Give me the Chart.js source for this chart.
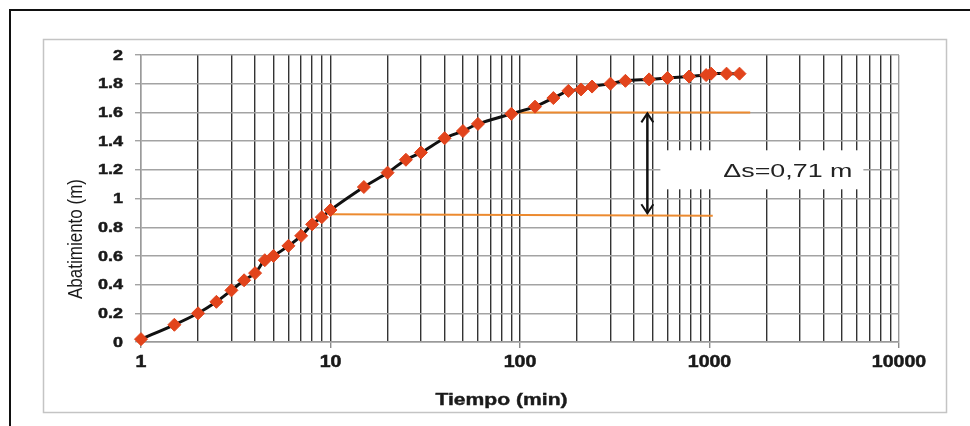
<!DOCTYPE html>
<html>
<head>
<meta charset="utf-8">
<script src="https://cdn.jsdelivr.net/npm/chart.js@4.4.1/dist/chart.umd.min.js"></script>
<style>
  html, body { margin: 0; padding: 0; background: #fff; }
  canvas { display: block; }
</style>
</head>
<body>
<canvas id="abatimientoChart" width="970" height="426"></canvas>
<script>
// datos
const tiempo = [1, 1.5, 2, 2.5, 3, 3.5, 4, 4.5, 5, 6, 7, 8, 9, 10, 15, 20, 25, 30, 40, 50, 60,
  90, 120, 150, 180, 210, 240, 300, 360, 480, 600, 780, 960, 1020, 1230, 1440];
const abatimiento = [0.02, 0.12, 0.20, 0.28, 0.36, 0.43, 0.48, 0.57, 0.60, 0.67, 0.74, 0.82, 0.87, 0.92,
  1.08, 1.18, 1.27, 1.32, 1.42, 1.47, 1.52, 1.59, 1.64, 1.70, 1.75, 1.76, 1.78, 1.80, 1.82, 1.83,
  1.84, 1.85, 1.86, 1.87, 1.87, 1.87];

const rectaSupX = [90, 1640];
const rectaSupY = [1.6, 1.6];
const rectaInfX = [10, 1040];
const rectaInfY = [0.89, 0.88];

const xTickLabels = ['1', '10', '100', '1000', '10000'];
const yTickLabels = ['0', '0.2', '0.4', '0.6', '0.8', '1', '1.2', '1.4', '1.6', '1.8', '2'];

const flechaX = 470;
const flechaY = [1.6, 0.89];
const etiquetaDelta = 'Δs=0,71 m';
const etiquetaY = 1.2;

// lineas de grilla: 1..9 por cada decada
const xTickValues = [];
xTickLabels.slice(0, -1).forEach((d) => {
  for (let m = 1; m <= 9; m++) xTickValues.push(Number(d) * m);
});
xTickValues.push(Number(xTickLabels[xTickLabels.length - 1]));
const yTickValues = yTickLabels.map(Number);

const toPoints = (xs, ys) => xs.map((x, i) => ({ x: x, y: ys[i] }));

function stretchText(ctx, text, x, y, align, sx, font, heavy) {
  ctx.save();
  ctx.font = font;
  ctx.textAlign = align;
  ctx.translate(x, y);
  ctx.scale(sx, 1);
  ctx.fillText(text, 0, 0);
  if (heavy) {
    ctx.lineWidth = heavy;
    ctx.strokeStyle = ctx.fillStyle;
    ctx.strokeText(text, 0, 0);
  }
  ctx.restore();
}

const decor = {
  id: 'decor',
  beforeDraw(chart) {
    const ctx = chart.ctx;
    ctx.save();
    ctx.fillStyle = '#fff';
    ctx.fillRect(0, 0, chart.width, chart.height);
    ctx.strokeStyle = '#111';
    ctx.lineWidth = 2;
    ctx.beginPath();
    ctx.moveTo(10, chart.height);
    ctx.lineTo(10, 10);
    ctx.lineTo(chart.width, 10);
    ctx.stroke();
    ctx.strokeStyle = '#c4c4c4';
    ctx.lineWidth = 1.5;
    ctx.strokeRect(43.5, 39.5, 903, 373);
    ctx.restore();
  },
  afterDatasetsDraw(chart) {
    const ctx = chart.ctx;
    const xs = chart.scales.x, ys = chart.scales.y;
    const ax = xs.getPixelForValue(flechaX);
    const y1 = ys.getPixelForValue(flechaY[0]);
    const y2 = ys.getPixelForValue(flechaY[1]);
    ctx.save();
    ctx.strokeStyle = '#111';
    ctx.lineWidth = 2.5;
    ctx.beginPath();
    ctx.moveTo(ax, y1 + 1);
    ctx.lineTo(ax, y2 - 1);
    ctx.stroke();
    ctx.lineWidth = 2;
    ctx.beginPath();
    ctx.moveTo(ax - 6, y1 + 10); ctx.lineTo(ax, y1 + 1); ctx.lineTo(ax + 6, y1 + 10);
    ctx.moveTo(ax - 6, y2 - 10); ctx.lineTo(ax, y2 - 1); ctx.lineTo(ax + 6, y2 - 10);
    ctx.stroke();

    // caja de la etiqueta
    const cy = ys.getPixelForValue(etiquetaY);
    const bx = ax + 13, bw = 203, bh = 39;
    ctx.fillStyle = '#fff';
    ctx.fillRect(bx, cy - bh / 2, bw, bh);
    ctx.fillStyle = '#222';
    ctx.textBaseline = 'alphabetic';
    stretchText(ctx, etiquetaDelta, bx + bw - 11, cy + 7.5, 'right', 1.45, '18.5px "Liberation Sans", Arial, sans-serif');
    ctx.restore();
  },
  afterDraw(chart) {
    const ctx = chart.ctx;
    const xs = chart.scales.x, ys = chart.scales.y;
    ctx.save();
    ctx.fillStyle = '#1a1a1a';
    ctx.textBaseline = 'middle';
    yTickLabels.forEach((t) => {
      stretchText(ctx, t, 123, ys.getPixelForValue(Number(t)) + 0.5, 'right', 1.2, 'bold 15px "Liberation Sans", Arial, sans-serif', 0.5);
    });
    xTickLabels.forEach((t) => {
      stretchText(ctx, t, xs.getPixelForValue(Number(t)), 363, 'center', 1.22, 'bold 16px "Liberation Sans", Arial, sans-serif', 0.5);
    });
    ctx.textBaseline = 'alphabetic';
    stretchText(ctx, 'Tiempo (min)', 501.5, 405, 'center', 1.28, 'bold 16.5px "Liberation Sans", Arial, sans-serif', 0.4);

    ctx.translate(82, 239);
    ctx.rotate(-Math.PI / 2);
    ctx.scale(1, 1.2);
    ctx.font = '17px "Liberation Sans", Arial, sans-serif';
    ctx.textAlign = 'center';
    ctx.fillText('Abatimiento (m)', 0, 0);
    ctx.restore();
  }
};

const isMajor = (v) => Math.abs(Math.log10(v) - Math.round(Math.log10(v))) < 1e-9;

new Chart(document.getElementById('abatimientoChart'), {
  type: 'line',
  data: {
    datasets: [
      {
        label: 'Abatimiento',
        data: toPoints(tiempo, abatimiento),
        borderColor: '#111',
        borderWidth: 3,
        tension: 0.3,
        pointStyle: 'rectRot',
        pointRadius: 6.5,
        pointBackgroundColor: '#e2441c',
        pointBorderColor: '#e2441c',
        pointBorderWidth: 1,
        clip: false,
        order: 0
      },
      {
        label: 'recta superior',
        data: toPoints(rectaSupX, rectaSupY),
        borderColor: '#ec8a2f',
        borderWidth: 2,
        pointRadius: 0,
        order: 1
      },
      {
        label: 'recta inferior',
        data: toPoints(rectaInfX, rectaInfY),
        borderColor: '#ec8a2f',
        borderWidth: 2,
        pointRadius: 0,
        order: 2
      }
    ]
  },
  options: {
    responsive: false,
    animation: false,
    events: [],
    layout: { padding: { top: 55, right: 71, left: 0, bottom: 0 } },
    plugins: { legend: { display: false }, tooltip: { enabled: false } },
    scales: {
      x: {
        type: 'logarithmic',
        min: 1,
        max: 10000,
        afterBuildTicks: (scale) => { scale.ticks = xTickValues.map((v) => ({ value: v })); },
        afterFit: (scale) => { scale.height = 84; },
        ticks: { display: false, autoSkip: false },
        grid: {
          color: (c) => (c.tick && (c.tick.value === 1 || c.tick.value === 10000)) ? '#9a9a9a' : '#333',
          lineWidth: 1.4,
          tickLength: 6,
          tickColor: (c) => (c.tick && isMajor(c.tick.value)) ? '#8a8a8a' : 'rgba(0,0,0,0)'
        },
        border: { color: '#9a9a9a', width: 1.5 }
      },
      y: {
        type: 'linear',
        min: 0,
        max: 2,
        afterBuildTicks: (scale) => { scale.ticks = yTickValues.map((v) => ({ value: v })); },
        afterFit: (scale) => { scale.width = 141; },
        ticks: { display: false },
        grid: {
          color: '#a3a3a3',
          lineWidth: 1.4,
          tickLength: 6,
          tickColor: '#a3a3a3'
        },
        border: { color: '#9a9a9a', width: 1.5 }
      }
    }
  },
  plugins: [decor]
});
</script>
</body>
</html>
